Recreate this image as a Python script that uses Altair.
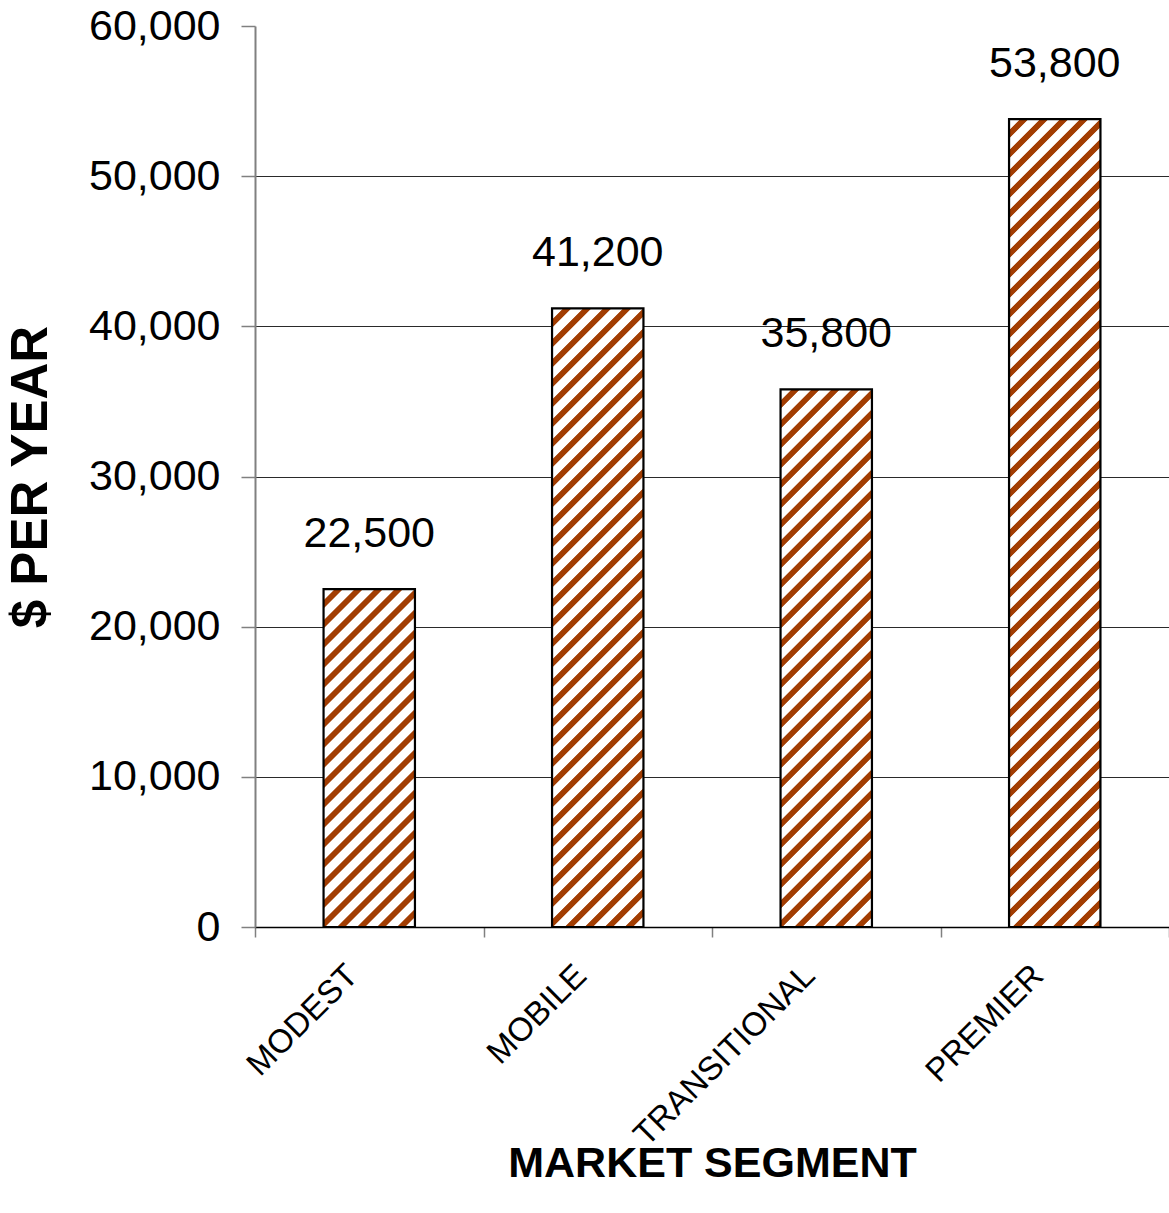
import altair as alt
import pandas as pd

# ---- data ----
categories = ["MODEST", "MOBILE", "TRANSITIONAL", "PREMIER"]
values = [22500, 41200, 35800, 53800]
y_ticks = [0, 10000, 20000, 30000, 40000, 50000, 60000]

df = pd.DataFrame({"segment": categories, "value": values})

# ---- layout / style ----
PLOT_W, PLOT_H = 914, 901
Y_MAX = 60000
BAR_FRAC = 0.4
FONT = "Liberation Sans"
BROWN = "#A23D02"


def hatch(w, h, period=20.0, frac=0.47, color=BROWN):
    """Linear gradient producing 45-degree '/' stripes on a w x h pixel box."""
    S = w + h
    c = S / (w * w + h * h)
    stops = []
    p = period / S
    e = 1.2 / S
    n = int(S / period) + 2
    for i in range(n):
        a = i * p + (1 - frac) * p
        b = (i + 1) * p
        for off, col in ((a, "white"), (a + e, color), (b - e, color), (b, "white")):
            if 0 <= off <= 1:
                stops.append({"offset": round(off, 5), "color": col})
    last = stops[-1]["color"] if stops else "white"
    stops = [{"offset": 0, "color": "white"}] + stops + [{"offset": 1, "color": last}]
    return {"gradient": "linear", "x1": 0, "y1": 0, "x2": w * c, "y2": h * c, "stops": stops}


step = PLOT_W / len(categories)
bar_w = step * BAR_FRAC

x_enc = alt.X(
    "segment:N",
    sort=categories,
    scale=alt.Scale(domain=categories, paddingInner=0, paddingOuter=0),
    axis=alt.Axis(
        title="MARKET SEGMENT",
        titleFont=FONT, titleFontSize=43, titleFontWeight="bold", titleColor="black",
        titleY=236, titleBaseline="middle",
        labelFont=FONT, labelFontSize=33, labelColor="black", labelLimit=500,
        labelAngle=-45, labelAlign="right", labelBaseline="middle",
        labelPadding=33, labelOffset=-17,
        domainColor="black", domainWidth=1.5,
        tickColor="#808080", tickSize=10, tickWidth=1.5, tickBand="extent",
        grid=False,
    ),
)
y_enc = alt.Y(
    "value:Q",
    scale=alt.Scale(domain=[0, Y_MAX], nice=False),
    axis=alt.Axis(
        title="$ PER YEAR",
        titleFont=FONT, titleFontSize=51, titleFontWeight="bold", titleColor="black",
        titleX=-224, titleBaseline="middle",
        values=y_ticks, format=",.0f",
        labelFont=FONT, labelFontSize=43, labelColor="black", labelPadding=21,
        domainColor="#808080", domainWidth=2,
        tickColor="#808080", tickSize=14, tickWidth=1.5,
        grid=True, gridColor="#2a2a2a", gridWidth=1.2,
        gridOpacity={"condition": {"test": "datum.value == 60000", "value": 0}, "value": 1},
    ),
)

base = alt.Chart(df)
layers = []
for cat, val in zip(categories, values):
    h = val / Y_MAX * PLOT_H
    layers.append(
        base.transform_filter(alt.datum.segment == cat)
        .mark_bar(fill=hatch(bar_w, h), stroke="black", strokeWidth=2.2,
                  width=alt.RelativeBandSize(BAR_FRAC))
        .encode(x=x_enc, y=y_enc)
    )

labels = base.mark_text(dy=-55, baseline="middle", align="center", font=FONT,
                        fontSize=43, color="black").encode(
    x=x_enc, y=y_enc, text=alt.Text("value:Q", format=",")
)

chart = alt.layer(*layers, labels).properties(
    width=PLOT_W, height=PLOT_H,
    autosize=alt.AutoSizeParams(type="none"),
    padding={"left": 255, "top": 26, "right": 0, "bottom": 286},
    background="white",
).configure_view(stroke=None)

chart.save("out.html", embed_options={"renderer": "svg", "actions": False})
